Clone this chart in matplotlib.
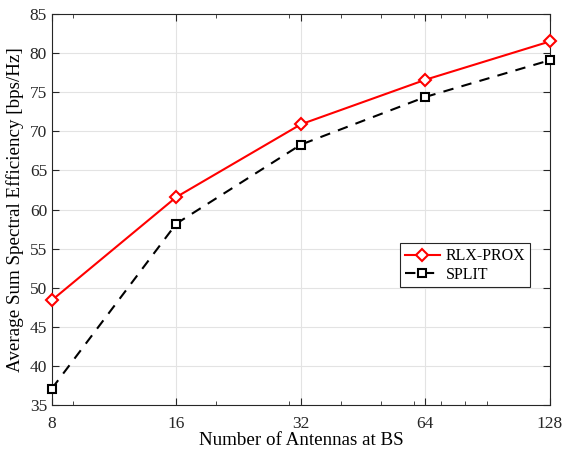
import matplotlib
matplotlib.use("Agg")
import matplotlib.pyplot as plt
from matplotlib.ticker import FixedLocator, NullFormatter

antennas = [8, 16, 32, 64, 128]
rlx_prox = [48.4, 61.6, 70.9, 76.6, 81.5]
split = [37.1, 58.2, 68.3, 74.4, 79.1]
minor_ticks = [9, 20, 30, 40, 50, 60, 70, 80, 90]

plt.rcParams['font.family'] = ['Liberation Serif', 'DejaVu Serif']

fig = plt.figure(figsize=(5.64, 4.54), dpi=100)
ax = fig.add_axes([0.092, 0.108, 0.883, 0.861])

ax.plot(antennas, rlx_prox, '-', color='red', lw=1.5, marker='D', ms=6.5,
        mfc='white', mec='red', mew=1.5, label='RLX-PROX', clip_on=False, zorder=3)
ax.plot(antennas, split, '--', color='black', lw=1.5, marker='s', ms=6,
        mfc='white', mec='black', mew=1.5, label='SPLIT', dashes=(5, 4),
        clip_on=False, zorder=3)

ax.set_xscale('log', base=2)
ax.set_xlim(8, 128)
ax.set_ylim(35, 85)
ax.xaxis.set_major_locator(FixedLocator(antennas))
ax.set_xticklabels([str(a) for a in antennas])
ax.xaxis.set_minor_locator(FixedLocator(minor_ticks))
ax.xaxis.set_minor_formatter(NullFormatter())
ax.set_yticks(range(35, 86, 5))

ax.grid(True, which='major', color='#e3e3e3', lw=0.8)
ax.set_axisbelow(True)
ax.tick_params(which='both', direction='in', top=True, right=True,
               labelsize=12.5, colors='#262626')
ax.tick_params(which='major', length=5)
ax.tick_params(which='minor', length=3)
ax.tick_params(axis='x', which='major', pad=8)
for s in ax.spines.values():
    s.set_color('#262626')
    s.set_linewidth(0.8)

ax.set_xlabel('Number of Antennas at BS', fontsize=13.7, labelpad=0)
ax.set_ylabel('Average Sum Spectral Efficiency [bps/Hz]', fontsize=13.7, labelpad=4)

leg = ax.legend(loc='center right', bbox_to_anchor=(0.961, 0.357), fontsize=11.5,
                fancybox=False, framealpha=1, edgecolor='#262626',
                handlelength=2.2, borderpad=0.3, labelspacing=0.15, handletextpad=0.4,
                borderaxespad=0)
leg.get_frame().set_linewidth(0.8)

fig.savefig('out.png', dpi=100)
